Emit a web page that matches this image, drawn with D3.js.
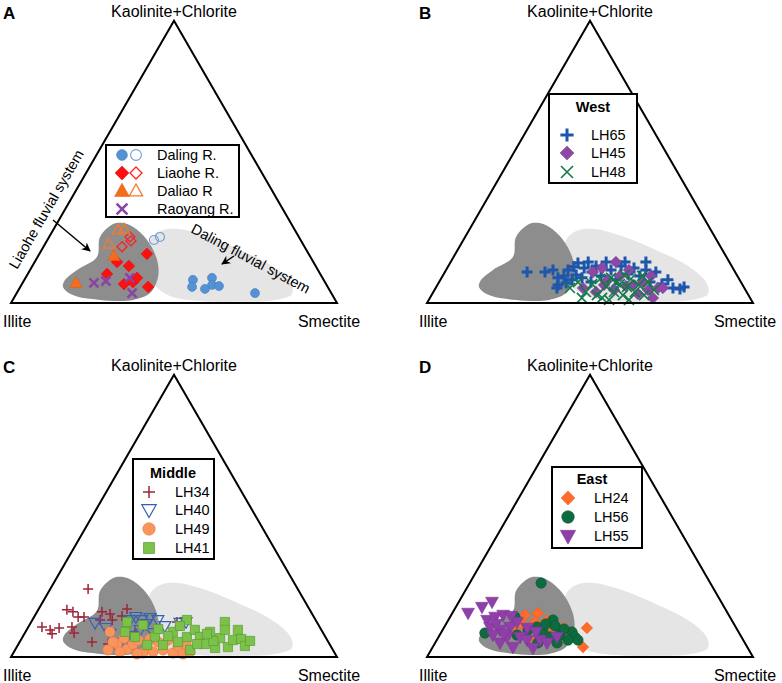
<!DOCTYPE html>
<html>
<head>
<meta charset="utf-8">
<script src="https://cdn.jsdelivr.net/npm/d3@7"></script>
<style>
  body { margin: 0; background: #fff; }
  svg { display: block; font-family: "Liberation Sans", Arial, sans-serif; }
</style>
</head>
<body>
<div id="chart"></div>
<script>
// Ternary values: [Smectite %, Kaolinite+Chlorite %] (Illite = rest)

// ── Reference fields ──────────────────────────────────────
var liaoheField = [[17.3,28.0],[19.8,28.4],[23.9,27.0],[30.6,22.3],[37.2,15.2],[40.5,9.2],[40.9,3.5],
  [36.9,1.1],[26.8,1.1],[17.6,2.8],[13.1,5.7],[12.5,8.2],[14.4,11.7],[18.2,16.3],[15.6,23.4]];
var dalingField = [[31.5,22.3],[33.0,25.5],[38.1,26.2],[47.6,23.8],[60.8,18.8],[73.5,13.1],[81.9,7.4],
  [84.6,3.2],[80.4,1.1],[70.0,0.4],[57.6,0.7],[47.5,2.5],[41.0,6.4],[34.8,14.5]];

// ── Panel A: rivers ───────────────────────────────────────
var dalingR     = [[51.7,8.2],[52.7,5.7],[57.0,5.0],[57.2,8.9],[58.5,6.4],[60.8,6.0],[73.1,3.5]];
var dalingOpen  = [[32.7,22.3],[34.0,23.4]];
var liaoheR     = [[33.0,17.4],[25.3,14.5],[29.6,13.1],[24.3,10.3],[31.3,6.7],[33.7,7.4],[34.2,8.9],[39.2,5.7]];
var liaoheOpen  = [[24.8,23.4],[25.8,22.0],[24.1,19.9]];
var daliaoR     = [[16.4,7.1],[23.2,16.7]];
var daliaoOpen  = [[19.9,25.9],[21.6,26.2],[19.6,20.9]];
var raoyangR    = [[21.9,7.1],[25.2,7.8],[35.4,3.5],[32.0,8.9]];

// ── Panel B: West ─────────────────────────────────────────
var lh65 = [[25.2,11.0],[30.7,11.0],[32.8,11.7],[35.7,8.9],[37.0,6.4],[37.2,9.6],[37.4,11.7],[38.7,12.8],
  [40.8,9.9],[39.2,14.2],[42.0,12.4],[42.2,14.5],[45.1,11.0],[45.3,13.1],[48.6,9.6],[47.7,14.5],[50.6,11.7],
  [53.9,8.2],[53.0,13.1],[56.5,10.3],[57.3,12.4],[60.5,9.6],[61.3,11.7],[64.7,7.4],[64.7,11.0],[68.7,6.7],
  [69.8,8.2],[72.8,5.3],[75.1,5.0],[76.0,5.7],[37.2,5.3],[39.1,7.1],[40.4,8.2],[43.1,8.9],[46.6,7.4],
  [53.5,14.5],[59.9,14.5],[47.5,12.4]];
var lh45 = [[45.2,5.3],[45.4,11.0],[47.5,12.4],[51.4,8.2],[55.1,4.6],[54.4,9.6],[58.0,6.0],[60.0,6.4],
  [63.1,3.2],[62.6,7.4],[65.5,4.6],[68.4,1.8],[68.2,5.3],[69.7,5.3],[49.9,3.9],[51.1,6.4],[56.1,11.7],
  [63.9,9.6],[50.7,14.5]];
var lh48 = [[41.2,5.3],[42.6,7.4],[46.8,3.9],[47.3,6.7],[50.7,2.8],[52.8,1.8],[51.9,6.0],[52.0,8.9],
  [55.4,3.9],[55.8,6.7],[58.7,2.8],[58.5,5.7],[58.3,8.5],[61.8,3.9],[61.8,6.4],[65.2,2.8],[64.1,7.4],
  [67.3,4.6],[54.3,7.4],[48.8,8.5],[46.6,1.8],[55.3,1.1],[61.4,1.1],[55.5,9.9],[61.2,9.6]];

// ── Panel C: Middle ───────────────────────────────────────
var lh34 = [[11.6,24.1],[8.8,16.7],[11.0,16.0],[13.5,14.2],[15.3,14.2],[19.9,16.0],[22.8,15.2],[27.1,17.0],
  [4.2,10.6],[7.2,9.6],[8.5,8.2],[9.6,10.3],[13.4,10.6],[15.1,8.5],[22.2,5.3],[20.8,13.1],[24.5,13.1],
  [44.7,12.4],[26.8,14.5],[27.5,4.6],[46.3,11.0],[33.9,8.2]];
var lh40 = [[19.7,12.1],[24.0,10.3],[30.0,13.1],[31.2,14.2],[33.6,13.1],[35.7,13.8],[38.5,13.1],[30.8,3.5],
  [32.3,5.3],[39.3,8.5],[45.8,12.1],[47.5,12.4],[34.8,9.6],[33.4,7.4],[41.7,11.0],[35.6,11.7],[26.3,8.2]];
var lh49 = [[25.9,8.9],[28.5,2.5],[30.2,4.6],[31.3,6.7],[34.2,2.8],[35.1,4.6],[36.0,6.0],[39.8,1.4],
  [39.8,3.9],[42.7,1.8],[42.4,5.3],[45.4,2.5],[45.2,6.0],[49.0,1.4],[49.3,3.9],[52.2,1.1],[54.0,1.8],
  [32.5,1.8],[38.1,1.1],[39.4,6.4],[51.4,4.6],[28.6,5.3]];
var lh41 = [[29.4,12.4],[30.5,8.9],[34.8,11.3],[40.6,7.1],[39.6,4.3],[44.5,4.3],[45.2,8.9],[47.4,13.1],
  [50.4,7.1],[51.6,9.6],[54.4,7.1],[57.2,4.6],[56.6,8.9],[61.0,3.2],[60.8,6.7],[59.4,12.4],[60.8,9.6],
  [64.8,3.5],[65.1,6.0],[64.8,9.6],[67.4,6.4],[69.8,3.9],[53.7,2.5],[48.6,5.3],[44.5,7.4],[40.2,9.9],
  [34.5,7.1],[46.3,11.0],[54.8,4.6],[59.2,5.7],[56.0,8.2],[70.5,5.7]];

// ── Panel D: East ─────────────────────────────────────────
var lh24 = [[22.6,14.9],[26.2,15.6],[26.9,12.4],[30.3,13.1],[36.6,10.3],[40.0,8.9],[43.9,10.3],[46.1,3.5],
  [23.8,11.3],[32.0,9.6],[33.6,11.3],[22.8,8.9],[27.9,6.7],[39.4,6.4]];
var lh56 = [[21.9,26.2],[19.9,14.2],[13.5,8.5],[28.4,10.6],[32.1,13.1],[33.8,11.0],[31.1,8.9],[34.2,7.1],
  [36.9,7.8],[40.0,8.9],[41.8,7.1],[43.3,6.0],[40.3,6.0],[31.5,5.0],[37.4,5.0],[23.7,7.8],[37.1,9.9],
  [30.6,11.7],[26.2,9.6]];
var lh55 = [[4.8,15.6],[8.0,17.7],[10.2,19.5],[11.9,13.1],[13.8,14.2],[15.9,14.9],[14.0,10.6],[17.6,9.6],
  [20.2,10.6],[25.0,7.1],[19.9,5.0],[24.6,3.5],[27.7,6.0],[31.7,6.0],[34.3,5.0],[36.3,7.1],[25.6,10.3],
  [21.4,12.4],[21.0,7.1],[16.3,7.8],[30.9,3.2],[15.3,11.7],[18.5,14.5],[29.0,8.9],[19.5,8.2]];

var axisLabels = { top: 'Kaolinite+Chlorite', left: 'Illite', right: 'Smectite' };

// ── Layout ────────────────────────────────────────────────
var W = 782, H = 683;
var SIDE = 326, TH = SIDE * Math.sqrt(3) / 2;

var svg = d3.select('#chart').append('svg')
  .attr('width', W).attr('height', H);

var defs = svg.append('defs');
defs.append('marker')
  .attr('id', 'arrow')
  .attr('viewBox', '0 0 10 10')
  .attr('refX', 9).attr('refY', 5)
  .attr('markerWidth', 6).attr('markerHeight', 6)
  .attr('orient', 'auto')
  .append('path')
  .attr('d', 'M 0 0 L 10 5 L 0 10 L 3 5 z')
  .attr('fill', '#000');

function shapePath(type, r) {
  switch (type) {
    case 'circle':  return d3.symbol(d3.symbolCircle, Math.PI * r * r)();
    case 'square':  return 'M' + (-r) + ',' + (-r) + 'h' + 2*r + 'v' + 2*r + 'h' + (-2*r) + 'Z';
    case 'diamond': return 'M0,' + (-r) + 'L' + r + ',0L0,' + r + 'L' + (-r) + ',0Z';
    case 'tri':     return 'M0,' + (-r) + 'L' + r*0.95 + ',' + r*0.7 + 'L' + (-r*0.95) + ',' + r*0.7 + 'Z';
    case 'tridown': return 'M0,' + r + 'L' + r*0.95 + ',' + (-r*0.7) + 'L' + (-r*0.95) + ',' + (-r*0.7) + 'Z';
    case 'plus':    return 'M' + (-r) + ',0H' + r + 'M0,' + (-r) + 'V' + r;
    case 'times':   return 'M' + (-r) + ',' + (-r) + 'L' + r + ',' + r + 'M' + (-r) + ',' + r + 'L' + r + ',' + (-r);
  }
}

var STY = {
  dalingR:    { type: 'circle',  r: 4.5, fill: '#5592d4', stroke: '#3f7cc0', sw: 0.6 },
  dalingOpen: { type: 'circle',  r: 4.5, fill: 'none',    stroke: '#6f9fd6', sw: 1.1 },
  liaoheR:    { type: 'diamond', r: 5.8, fill: '#ff1010', stroke: '#e00000', sw: 0.5 },
  liaoheOpen: { type: 'diamond', r: 5,   fill: 'none',    stroke: '#ff2020', sw: 1.3 },
  daliaoR:    { type: 'tri',     r: 6.5, fill: '#f36d1c', stroke: '#e05a10', sw: 0.5 },
  daliaoOpen: { type: 'tri',     r: 5.8, fill: 'none',    stroke: '#f47a2a', sw: 1.3 },
  raoyangR:   { type: 'times',   r: 4.5, fill: 'none',    stroke: '#8a44a6', sw: 2.6 },
  lh65:       { type: 'plus',    r: 5.5, fill: 'none',    stroke: '#1d56aa', sw: 3 },
  lh45:       { type: 'diamond', r: 5.8, fill: '#8d48a6', stroke: '#7a3a94', sw: 0.5 },
  lh48:       { type: 'times',   r: 5,   fill: 'none',    stroke: '#137a4a', sw: 1.6 },
  lh34:       { type: 'plus',    r: 5,   fill: 'none',    stroke: '#9c2438', sw: 1.5 },
  lh40:       { type: 'tridown', r: 6.3, fill: 'none',    stroke: '#3462b3', sw: 1.2 },
  lh49:       { type: 'circle',  r: 5.2, fill: '#f8945c', stroke: '#e47c44', sw: 0.6 },
  lh41:       { type: 'square',  r: 4.6, fill: '#7cc24a', stroke: '#5a9c34', sw: 0.7 },
  lh24:       { type: 'diamond', r: 5.8, fill: '#ff6b2b', stroke: '#ee5a1a', sw: 0.5 },
  lh56:       { type: 'circle',  r: 5.2, fill: '#0e6b40', stroke: '#0a5532', sw: 0.6 },
  lh55:       { type: 'tridown', r: 6.8, fill: '#8e3fa8', stroke: '#7d3296', sw: 0.5 }
};

function drawSymbols(g, data, sty) {
  g.append('g').selectAll('path')
    .data(data)
    .enter()
    .append('path')
    .attr('d', shapePath(sty.type, sty.r))
    .attr('transform', function(d) { return 'translate(' + d[0] + ',' + d[1] + ')'; })
    .attr('fill', sty.fill)
    .attr('stroke', sty.stroke)
    .attr('stroke-width', sty.sw)
    .attr('stroke-linejoin', 'miter');
}

function drawPanel(opt) {
  var g = svg.append('g').attr('transform', 'translate(' + opt.ox + ',' + opt.oy + ')');

  // ternary scales
  var xs = d3.scaleLinear().domain([0, 100]).range([0, SIDE]);
  var ys = d3.scaleLinear().domain([0, 100]).range([0, -TH]);
  function proj(d) { return [xs(d[0] + d[1] / 2), ys(d[1])]; }

  var blob = d3.line().curve(d3.curveCatmullRomClosed.alpha(0.5));

  g.append('path')
    .attr('d', blob(dalingField.map(proj)))
    .attr('fill', '#e5e5e5');
  g.append('path')
    .attr('d', blob(liaoheField.map(proj)))
    .attr('fill', '#8d8d8d');

  opt.series.forEach(function(s) {
    drawSymbols(g, s.data.map(proj), STY[s.key]);
  });

  // triangle frame
  var frame = [[0, 0], [100, 0], [0, 100]].map(proj);
  g.append('path')
    .attr('d', 'M' + frame.join('L') + 'Z')
    .attr('fill', 'none')
    .attr('stroke', '#000')
    .attr('stroke-width', 2)
    .attr('stroke-linejoin', 'miter');

  // corner labels
  g.append('text')
    .attr('x', SIDE / 2).attr('y', -TH - 4)
    .attr('text-anchor', 'middle')
    .attr('font-size', '16px')
    .text(axisLabels.top);
  g.append('text')
    .attr('x', -8).attr('y', 24)
    .attr('font-size', '16px')
    .text(axisLabels.left);
  g.append('text')
    .attr('x', SIDE - 8).attr('y', 24)
    .attr('text-anchor', 'middle')
    .attr('font-size', '16px')
    .text(axisLabels.right);

  // panel letter
  svg.append('text')
    .attr('x', opt.ox - 8).attr('y', opt.oy - 284)
    .attr('font-size', '17px')
    .attr('font-weight', 'bold')
    .text(opt.letter);

  // legend
  var L = opt.legend;
  var lg = svg.append('g');
  lg.append('rect')
    .attr('x', L.box[0]).attr('y', L.box[1])
    .attr('width', L.box[2] - L.box[0]).attr('height', L.box[3] - L.box[1])
    .attr('fill', '#fff')
    .attr('stroke', '#000')
    .attr('stroke-width', 2);
  if (L.title) {
    lg.append('text')
      .attr('x', L.titleX).attr('y', L.titleY)
      .attr('text-anchor', 'middle')
      .attr('font-size', '14.5px')
      .attr('font-weight', 'bold')
      .text(L.title);
  }
  L.rows.forEach(function(row) {
    row.keys.forEach(function(k, i) {
      var st = STY[k];
      lg.append('path')
        .attr('d', shapePath(st.type, st.r * 1.2))
        .attr('transform', 'translate(' + L.symX[i] + ',' + row.y + ')')
        .attr('fill', st.fill)
        .attr('stroke', st.stroke)
        .attr('stroke-width', st.sw);
    });
    lg.append('text')
      .attr('x', L.textX).attr('y', row.y + 5)
      .attr('font-size', '14.5px')
      .text(row.label);
  });
  return g;
}

// ── Panels ────────────────────────────────────────────────
drawPanel({
  letter: 'A', ox: 11, oy: 303,
  series: [
    { key: 'dalingR', data: dalingR }, { key: 'dalingOpen', data: dalingOpen },
    { key: 'liaoheR', data: liaoheR }, { key: 'liaoheOpen', data: liaoheOpen },
    { key: 'daliaoR', data: daliaoR }, { key: 'daliaoOpen', data: daliaoOpen },
    { key: 'raoyangR', data: raoyangR }
  ],
  legend: {
    box: [106, 145, 239, 217], symX: [122, 136], textX: 157,
    rows: [
      { keys: ['dalingR', 'dalingOpen'], label: 'Daling R.', y: 155 },
      { keys: ['liaoheR', 'liaoheOpen'], label: 'Liaohe R.', y: 173 },
      { keys: ['daliaoR', 'daliaoOpen'], label: 'Daliao R', y: 191 },
      { keys: ['raoyangR'], label: 'Raoyang R.', y: 209 }
    ]
  }
});

drawPanel({
  letter: 'B', ox: 427, oy: 303,
  series: [{ key: 'lh65', data: lh65 }, { key: 'lh45', data: lh45 }, { key: 'lh48', data: lh48 }],
  legend: {
    box: [549, 94, 637, 183], title: 'West', titleX: 593, titleY: 112, symX: [567], textX: 591,
    rows: [
      { keys: ['lh65'], label: 'LH65', y: 135 },
      { keys: ['lh45'], label: 'LH45', y: 153 },
      { keys: ['lh48'], label: 'LH48', y: 172 }
    ]
  }
});

drawPanel({
  letter: 'C', ox: 11, oy: 657,
  series: [{ key: 'lh34', data: lh34 }, { key: 'lh40', data: lh40 }, { key: 'lh49', data: lh49 }, { key: 'lh41', data: lh41 }],
  legend: {
    box: [133, 459, 214, 559], title: 'Middle', titleX: 173, titleY: 478, symX: [149], textX: 175,
    rows: [
      { keys: ['lh34'], label: 'LH34', y: 492 },
      { keys: ['lh40'], label: 'LH40', y: 510 },
      { keys: ['lh49'], label: 'LH49', y: 529 },
      { keys: ['lh41'], label: 'LH41', y: 548 }
    ]
  }
});

drawPanel({
  letter: 'D', ox: 427, oy: 657,
  series: [{ key: 'lh24', data: lh24 }, { key: 'lh56', data: lh56 }, { key: 'lh55', data: lh55 }],
  legend: {
    box: [552, 467, 642, 548], title: 'East', titleX: 592, titleY: 484, symX: [568], textX: 594,
    rows: [
      { keys: ['lh24'], label: 'LH24', y: 498 },
      { keys: ['lh56'], label: 'LH56', y: 517 },
      { keys: ['lh55'], label: 'LH55', y: 536 }
    ]
  }
});

// ── Panel A annotations ───────────────────────────────────
svg.append('text')
  .attr('transform', 'translate(17,270) rotate(-60)')
  .attr('font-size', '14.5px')
  .text('Liaohe fluvial system');
svg.append('line')
  .attr('x1', 53).attr('y1', 220).attr('x2', 90).attr('y2', 251)
  .attr('stroke', '#000').attr('stroke-width', 1.5)
  .attr('marker-end', 'url(#arrow)');

svg.append('text')
  .attr('transform', 'translate(190,232) rotate(28)')
  .attr('font-size', '14.5px')
  .text('Daling fluvial system');
svg.append('line')
  .attr('x1', 234).attr('y1', 256).attr('x2', 222).attr('y2', 264)
  .attr('stroke', '#000').attr('stroke-width', 1.5)
  .attr('marker-end', 'url(#arrow)');
</script>
</body>
</html>
